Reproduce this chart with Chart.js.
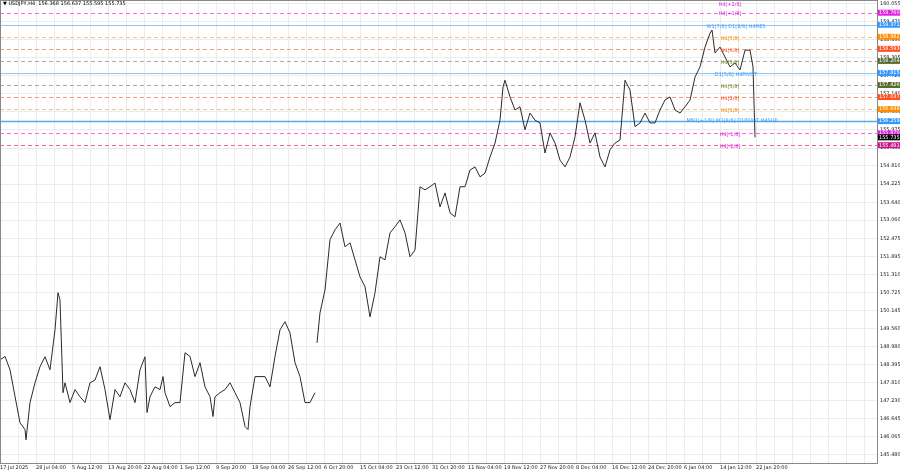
<!DOCTYPE html>
<html><head><meta charset="utf-8">
<script src="https://cdn.jsdelivr.net/npm/chart.js@4"></script>
<style>html,body{margin:0;padding:0;background:#fff}#w{width:900px;height:474px;position:relative}</style>
</head><body><div id="w"><canvas id="c"></canvas></div>
<script>
const xs=[0,5,10,15,20,25,26,30,35,40,45,50,55,58,60,63,65,70,75,80,85,90,95,100,105,110,115,120,125,130,135,140,145,147,150,155,160,163,165,170,175,180,185,190,195,200,205,210,213,215,220,225,230,235,240,245,248,250,255,260,265,270,275,280,285,290,295,300,305,310,315,316,317,320,325,330,335,340,345,350,355,360,365,370,375,380,385,390,395,400,405,410,415,420,425,430,435,440,445,450,455,460,465,470,475,480,485,490,495,500,503,505,510,515,520,525,530,535,540,545,550,555,560,565,570,575,580,585,590,595,600,605,610,615,620,625,630,635,640,645,650,655,660,665,670,675,680,685,690,695,700,705,710,712,715,720,725,730,735,740,745,750,753,755];
const closes=[148.55,148.66,148.23,147.37,146.52,146.30,145.97,147.17,147.81,148.33,148.65,148.23,149.52,150.72,150.49,147.49,147.81,147.17,147.59,147.36,147.17,147.81,147.90,148.33,147.59,146.62,147.59,147.36,147.81,147.59,147.17,148.23,148.65,146.85,147.36,147.68,147.59,148.01,147.49,147.04,147.17,147.17,148.78,148.66,148.01,148.46,147.68,147.36,146.72,147.36,147.49,147.59,147.81,147.49,147.17,146.40,146.30,147.04,148.01,148.01,148.01,147.68,148.66,149.52,149.78,149.42,148.46,148.01,147.17,147.17,147.49,null,149.10,150.07,150.81,152.43,152.75,152.97,152.20,152.33,151.78,151.23,150.91,149.94,150.72,151.88,151.78,152.65,152.85,153.07,152.65,151.88,152.10,154.14,154.04,154.14,154.26,153.49,153.94,153.30,153.17,154.14,154.14,154.68,154.78,154.46,154.58,155.10,155.55,156.29,157.36,157.58,157.04,156.62,156.72,155.98,156.52,156.29,156.20,155.23,155.88,155.55,155.00,154.78,155.10,155.75,156.85,156.29,155.55,155.88,155.10,154.78,155.33,155.55,155.65,157.58,157.26,156.08,156.20,156.52,156.20,156.20,156.62,156.94,157.04,156.62,156.52,156.72,156.94,157.68,158.01,158.65,159.10,159.20,158.46,158.65,158.33,158.01,158.14,157.91,158.55,158.55,158.01,155.735];
const xLabels=["17 Jul 2025","28 Jul 04:00","5 Aug 12:00","13 Aug 20:00","22 Aug 04:00","1 Sep 12:00","9 Sep 20:00","18 Sep 04:00","26 Sep 12:00","6 Oct 20:00","15 Oct 04:00","23 Oct 12:00","31 Oct 20:00","11 Nov 04:00","19 Nov 12:00","27 Nov 20:00","8 Dec 04:00","16 Dec 12:00","24 Dec 20:00","6 Jan 04:00","14 Jan 12:00","22 Jan 20:00"];
const yTicks=[160.055,159.470,158.890,158.305,157.725,157.140,156.555,155.975,155.390,154.810,154.225,153.640,153.060,152.475,151.895,151.310,150.725,150.145,149.560,148.980,148.395,147.810,147.230,146.645,146.065,145.480];
const levelValues=[159.760,159.371,158.982,158.593,158.204,157.815,157.426,157.037,156.648,156.259,155.870,155.481];
const levelNames=["H4[+1/8]","W1[7/8] D1[8/8] H4RES","H4[7/8]","H4[6/8]","H4[5/8]","D1[5/8] H4PIVOT","H4[3/8]","H4[2/8]","H4[1/8]","MN1[+1/8] W1[8/8] D1PIVOT H4SUP","H4[-1/8]","H4[-2/8]"];
const levelLine=["#ff66e0","#8cc8f5","#f5c08a","#f59a80","#aaaaaa","#8cc8f5","#aaaaaa","#f59a80","#f5c08a","#55aaf0","#ff66e0","#ee6699"];
const levelBox=["#e020e0","#3399ff","#ff8c00","#ff5020","#556b2f","#3399ff","#556b2f","#ff5020","#ff8c00","#3399ff","#e020e0","#c71585"];
const levelText=["#e020e0","#3399ff","#ff8c00","#ff5020","#6b8e23","#3399ff","#6b8e23","#ff5020","#ff8c00","#3399ff","#e020e0","#e020e0"];
const levelSolid=[false,true,false,false,false,true,false,false,false,true,false,false];
const current=155.735;
const header="▼ USDJPY,H4  156.368 156.637 155.595 155.735";

const pts=xs.map((x,i)=>({x:x,y:closes[i]}));
const F="DejaVu Sans";
const levels={id:'levels',
 beforeDatasetsDraw(ch){const c=ch.ctx,a=ch.chartArea,y=ch.scales.y;
  c.save();
  levelValues.forEach((v,i)=>{const p=Math.round(y.getPixelForValue(v))+0.5;
   c.strokeStyle=levelLine[i];c.lineWidth=i==9?1.6:1;c.setLineDash(levelSolid[i]?[]:[4,3]);
   c.beginPath();c.moveTo(a.left,p);c.lineTo(a.right,p);c.stroke();});
  c.restore();},
 afterDraw(ch){const c=ch.ctx,a=ch.chartArea,y=ch.scales.y;
  c.save();c.font="5px "+F;c.textBaseline="middle";
  const t=y.getPixelForValue(160.055);
  c.fillStyle="#e020e0";c.textAlign="center";c.fillText("H4[+2/8]",730,t+1);
  levelValues.forEach((v,i)=>{const p=y.getPixelForValue(v);
   c.fillStyle=levelText[i];c.textAlign="center";
   c.fillText(levelNames[i],i==9?732:(i==1||i==5?736:730),p-(i==9?0:-1.5));
   c.fillStyle=levelBox[i];c.fillRect(a.right+1,p-3,22,6);
   c.fillStyle="#fff";c.textAlign="left";c.fillText(v.toFixed(3),a.right+2,p);});
  const cp=y.getPixelForValue(current);
  c.fillStyle="#000";c.fillRect(a.right+1,cp-3,22,6);c.fillStyle="#fff";c.fillText(current.toFixed(3),a.right+2,cp);
  c.fillStyle="#000";c.textAlign="left";c.fillText(header,3,4);
  c.strokeStyle="#888";c.lineWidth=1;c.strokeRect(a.left+0.5,a.top+0.5,a.right-a.left,a.bottom-a.top);
  c.restore();}};
new Chart(document.getElementById('c'),{type:'line',
 data:{datasets:[{data:pts,borderColor:'#2a2a2a',borderWidth:1,pointRadius:0,tension:0,spanGaps:false}]},
 options:{responsive:true,maintainAspectRatio:false,animation:false,
  layout:{padding:{left:0,top:0,right:0,bottom:0}},
  plugins:{legend:{display:false},tooltip:{enabled:false}},
  scales:{
   x:{type:'linear',min:0,max:877,grid:{color:'#ececec',drawTicks:false},border:{display:false},
     afterBuildTicks(s){const t=[];for(let v=0;v<=877;v+=18)t.push({value:v});s.ticks=t;},
     ticks:{autoSkip:false,maxRotation:0,padding:2,align:'start',font:{family:F,size:5},color:'#222',
       callback(v){const i=v/36;return Number.isInteger(i)&&i<xLabels.length?xLabels[i]:'';}},
     afterFit(s){s.height=11;s.paddingLeft=0;s.paddingRight=0;}},
   y:{position:'right',min:145.22,max:160.17,grid:{color:'#ececec',drawTicks:false},border:{display:false},
     afterBuildTicks(s){s.ticks=yTicks.map(v=>({value:v}));},
     ticks:{autoSkip:false,padding:3,font:{family:F,size:5},color:'#222',callback:v=>v.toFixed(3)},
     afterFit(s){s.width=23;s.paddingTop=0;s.paddingBottom=0;}}}},
 plugins:[levels]});
</script></body></html>
